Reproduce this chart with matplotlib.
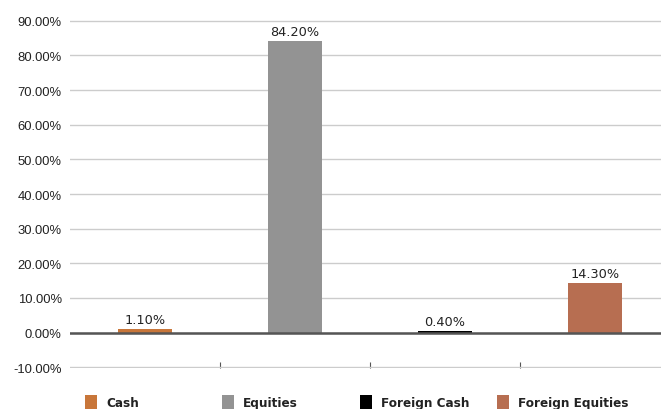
import matplotlib
matplotlib.use("Agg")
import matplotlib.pyplot as plt
from matplotlib.patches import Patch

categories = ["Cash", "Equities", "Foreign Cash", "Foreign Equities"]
values = [1.10, 84.20, 0.40, 14.30]
colors = ["#C8763A", "#939393", "#000000", "#B76E51"]
yticks = [-10, 0, 10, 20, 30, 40, 50, 60, 70, 80, 90]

fig = plt.figure(figsize=(6.61, 4.10), dpi=100)
ax = fig.add_axes([70/661, 1-369/410, 600/661, (369-21)/410])

x = list(range(len(categories)))
bars = ax.bar(x, values, width=0.36, color=colors, zorder=3)
for b, v in zip(bars, values):
    ax.text(b.get_x() + b.get_width()/2, v + 0.9, f"{v:.2f}%", ha="center", va="bottom",
            fontsize=9.3, family="DejaVu Sans", color="#222222", zorder=4)

ax.set_xlim(-0.5, 3.5)
ax.set_ylim(-10.25, 90.25)
ax.set_yticks(yticks)
ax.set_yticklabels([f"{t:.2f}%" for t in yticks], family="Liberation Sans", fontsize=9.4, color="#222222")
ax.tick_params(axis="y", length=0, pad=6)
ax.set_xticks([0.5, 1.5, 2.5])
ax.set_xticklabels([])
ax.tick_params(axis="x", direction="in", length=4, color="#555555", width=0.8, pad=0)
ax.grid(axis="y", color="#CCCCCC", linewidth=1.0, zorder=0)
ax.axhline(0, color="#555555", linewidth=1.8, zorder=3.5)
for s in ax.spines.values():
    s.set_visible(False)

lx = [85, 222, 360, 497]
for name, c, px in zip(categories, colors, lx):
    leg = fig.legend(handles=[Patch(facecolor=c, edgecolor="none")], labels=[name],
                     loc="center left", bbox_to_anchor=(px/661, 1-403/410),
                     frameon=False, handlelength=0.9, handleheight=1.2, handletextpad=0.7,
                     borderpad=0, borderaxespad=0,
                     prop={"family": "DejaVu Sans", "stretch": "condensed", "weight": "semibold", "size": 9.6})
    for t in leg.get_texts():
        t.set_color("#222222")

fig.savefig("out.png", dpi=100)
